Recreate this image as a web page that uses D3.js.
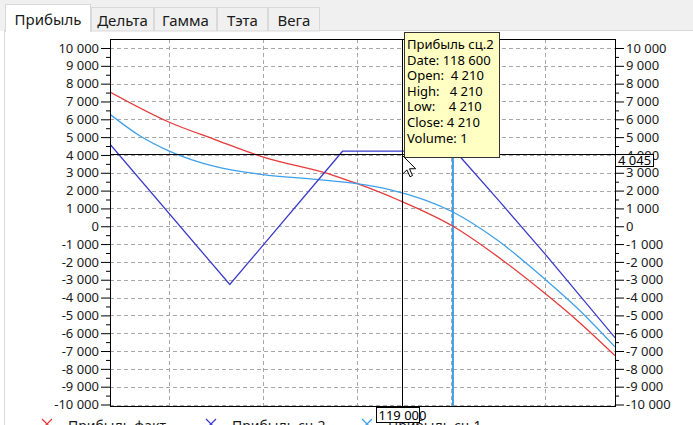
<!DOCTYPE html>
<html><head><meta charset="utf-8">
<script src="https://cdn.jsdelivr.net/npm/d3@7"></script>
<style>
html,body{margin:0;padding:0;background:#fff;}
svg{display:block;font-family:"Noto Sans",sans-serif;}
</style></head>
<body><svg id="c" width="693" height="425"></svg>
<script>
// ---- data ----
const tabs = ["Прибыль","Дельта","Гамма","Тэта","Вега"];
const seriesNames = ["Прибыль факт","Прибыль сц.2","Прибыль сц.1"];
const factX = [112750,114000,115000,116000,117500,118000,118900,120050,121200,122000,122700,123500];
const factY = [7530,5850,4850,3890,2860,2400,1460,0,-2090,-3750,-5300,-7260];
const sc2X = [112750,115300,117700,118600,120100,121000,122000,123500];
const sc2Y = [4600,-3270,4210,4210,4210,1520,-1520,-6250];
const sc1X = [112750,113400,114000,115000,116000,117150,118000,118700,120050,121000,122000,122700,123500];
const sc1Y = [6280,5050,4230,3340,2900,2630,2390,2060,800,-790,-2950,-4600,-6770];
const yTickValues = [-10000,-9000,-8000,-7000,-6000,-5000,-4000,-3000,-2000,-1000,0,1000,2000,3000,4000,5000,6000,7000,8000,9000,10000];
const xGridValues = [114000,116000,118000,120000,122000];
const currentPrice = 120050;
const crossX = 118960, crossY = 4045;
const tooltipLines = ["Прибыль сц.2","Date: 118 600","Open:  4 210","High:   4 210","Low:    4 210","Close: 4 210","Volume: 1"];

// ---- setup ----
const colors = ["#e53a3a","#3a3acc","#3fa0ea"];
const svg = d3.select("#c");
const fmt = d3.formatLocale({decimal:",",thousands:" ",grouping:[3],currency:["",""],minus:"-"}).format(",d");

const L=110, R=615, T=39, B=406;
const x = d3.scaleLinear().domain([112750,123500]).range([L,R]);
const y = d3.scaleLinear().domain([-10084,10505]).range([B,T]);

// background / tabs
svg.append("rect").attr("x",0).attr("y",0).attr("width",693).attr("height",31).attr("fill","#f0f0f0");
svg.append("line").attr("x1",4.5).attr("x2",4.5).attr("y1",31).attr("y2",425).attr("stroke","#d9d9d9");
svg.append("line").attr("x1",4).attr("x2",693).attr("y1",30.5).attr("y2",30.5).attr("stroke","#d9d9d9");
const tabX = [5,91,154,217,268,320];
tabs.forEach((t,i)=>{
  const sel = i===0;
  const x0 = tabX[i], x1 = tabX[i+1];
  const top = sel?4:7;
  svg.append("rect").attr("x",x0+0.5).attr("y",top+0.5).attr("width",x1-x0-1).attr("height",(sel?31:30.5)-top)
    .attr("fill",sel?"#fff":"#f0f0f0").attr("stroke","#d9d9d9");
  svg.append("text").attr("x",(x0+x1)/2).attr("y",sel?25:26).attr("text-anchor","middle")
    .attr("font-size",15).attr("fill","#1a1a1a").text(t);
});
svg.append("rect").attr("x",6).attr("y",30).attr("width",84).attr("height",2).attr("fill","#fff");

// grid
const g = svg.append("g");
g.selectAll(".hg").data(yTickValues).join("line")
  .attr("x1",L).attr("x2",R).attr("y1",d=>Math.round(y(d))+0.5).attr("y2",d=>Math.round(y(d))+0.5)
  .attr("stroke","#a8a8a8").attr("stroke-dasharray","4,3");
g.selectAll(".vg").data(xGridValues).join("line")
  .attr("x1",d=>Math.round(x(d))+0.5).attr("x2",d=>Math.round(x(d))+0.5).attr("y1",T).attr("y2",B)
  .attr("stroke","#a8a8a8").attr("stroke-dasharray","4,3");

// axes
const minor = d3.range(-9500,10000,1000);
const axL = d3.axisLeft(y).tickValues(yTickValues).tickFormat(fmt).tickSize(9).tickPadding(2);
const axR = d3.axisRight(y).tickValues(yTickValues).tickFormat(fmt).tickSize(9).tickPadding(2);
function styleAxis(sel){
  sel.select(".domain").remove();
  sel.selectAll("line").attr("stroke","#000");
  sel.selectAll("text").attr("font-size",13).attr("fill","#1a1a1a").attr("font-family","Noto Sans");
}
svg.append("g").attr("transform",`translate(${L},0)`).call(axL).call(styleAxis);
svg.append("g").attr("transform",`translate(${R},0)`).call(axR).call(styleAxis);
svg.append("g").attr("transform",`translate(${L},0)`).call(d3.axisLeft(y).tickValues(minor).tickFormat("").tickSize(4)).call(styleAxis);
svg.append("g").attr("transform",`translate(${R},0)`).call(d3.axisRight(y).tickValues(minor).tickFormat("").tickSize(4)).call(styleAxis);

// clip
svg.append("clipPath").attr("id","pc").append("rect").attr("x",L).attr("y",T).attr("width",R-L).attr("height",B-T);
const pg = svg.append("g").attr("clip-path","url(#pc)");

// current price line
pg.append("line").attr("x1",x(currentPrice)).attr("x2",x(currentPrice)).attr("y1",T).attr("y2",B)
  .attr("stroke","#3fa0ea").attr("stroke-width",2);

const series = [
  {xs:factX, ys:factY, c:colors[0], curve:d3.curveMonotoneX},
  {xs:sc2X, ys:sc2Y, c:colors[1], curve:d3.curveLinear},
  {xs:sc1X, ys:sc1Y, c:colors[2], curve:d3.curveMonotoneX}
];
[0,2,1].forEach(i=>{
  const s = series[i];
  const pts = s.xs.map((v,k)=>[v,s.ys[k]]);
  pg.append("path").attr("d",d3.line().x(d=>x(d[0])).y(d=>y(d[1])).curve(s.curve)(pts))
    .attr("fill","none").attr("stroke",s.c).attr("stroke-width",1.3);
});

// crosshair
const cy = Math.round(y(crossY))+0.5, cx = Math.round(x(crossX))+0.5;
svg.append("line").attr("x1",L).attr("x2",R).attr("y1",cy).attr("y2",cy).attr("stroke","#000");
svg.append("line").attr("x1",cx).attr("x2",cx).attr("y1",T).attr("y2",B).attr("stroke","#000");

// frame
svg.append("rect").attr("x",L+0.5).attr("y",T+0.5).attr("width",R-L).attr("height",B-T)
  .attr("fill","none").attr("stroke","#000");

// legend (clipped at bottom)
const legX = [47,211,367];
seriesNames.forEach((n,i)=>{
  const lx = legX[i];
  svg.append("path").attr("d",`M${lx-5},419L${lx+5},429M${lx+5},419L${lx-5},429`).attr("stroke",colors[i]).attr("stroke-width",1.3);
  svg.append("text").attr("x",lx+21).attr("y",431).attr("font-size",14).attr("fill","#1a1a1a").text(n);
});

// crosshair labels
const yl = svg.append("g");
yl.append("rect").attr("x",R+0.5).attr("y",cy).attr("width",38).attr("height",12).attr("fill","#fff").attr("stroke","#000");
yl.append("text").attr("x",R+3).attr("y",cy+10.5).attr("font-size",13).attr("fill","#000").text(fmt(crossY));
const xl = svg.append("g");
xl.append("rect").attr("x",cx-26).attr("y",B+1.5).attr("width",43).attr("height",15).attr("fill","#fff").attr("stroke","#000");
xl.append("text").attr("x",cx-24).attr("y",B+14).attr("font-size",13).attr("fill","#000").text(fmt(Math.round(crossX/1000)*1000));

// tooltip
const tt = svg.append("g");
tt.append("rect").attr("x",404.5).attr("y",32.5).attr("width",95).attr("height",125).attr("fill","#ffffc4").attr("stroke","#333");
tooltipLines.forEach((t,i)=>{
  tt.append("text").attr("x",407).attr("y",49+i*15.6).attr("font-size",13).attr("fill","#000")
    .style("white-space","pre").text(t);
});

// mouse cursor
svg.append("path").attr("transform",`translate(${cx},${cy+1}) scale(1.25)`)
  .attr("d","M0,0L0,15L3.5,11.5L6,17L8,16L5.6,10.6L10.5,10.6Z")
  .attr("fill","#fff").attr("stroke","#000").attr("stroke-width",0.8);
</script></body></html>
